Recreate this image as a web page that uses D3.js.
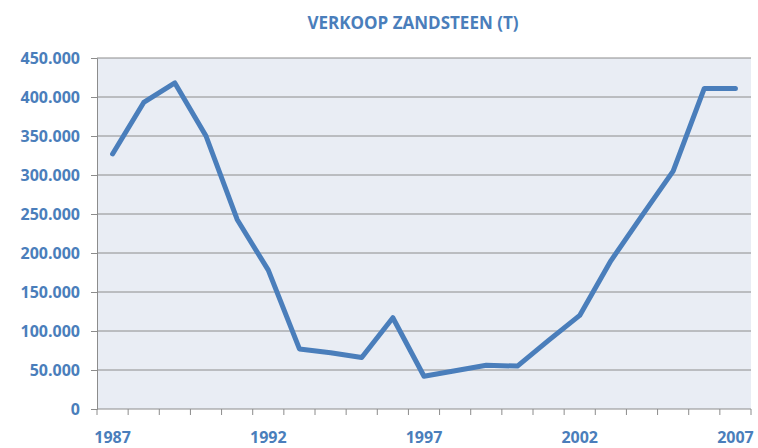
<!DOCTYPE html>
<html>
<head>
<meta charset="utf-8">
<script src="https://cdn.jsdelivr.net/npm/d3@7"></script>
<style>
  body { margin: 0; background: #fff; }
  text { font-family: "Open Sans", "Liberation Sans", sans-serif; }
</style>
</head>
<body>
<svg id="chart" width="758" height="448"></svg>
<script>
const years = d3.range(1987, 2008);
const tonnes = [327000, 393000, 418000, 350000, 243000, 178000, 77000, 72000, 66000, 117000,
  42000, 49000, 56000, 55000, 88000, 120000, 190000, 248000, 305000, 411000, 411000];
const yTicks = [0, 50000, 100000, 150000, 200000, 250000, 300000, 350000, 400000, 450000];
const xLabels = [1987, 1992, 1997, 2002, 2007];

const blue = "#4a7ebb";
const margin = { top: 58, right: 7, bottom: 39, left: 97 };
const width = 758 - margin.left - margin.right,
  height = 448 - margin.top - margin.bottom;

const svg = d3.select("#chart");

svg.append("text")
  .attr("x", 413)
  .attr("y", 29)
  .attr("text-anchor", "middle")
  .attr("fill", blue)
  .attr("font-size", 17)
  .attr("font-weight", "bold")
  .text("VERKOOP ZANDSTEEN (T)");

const g = svg.append("g").attr("transform", `translate(${margin.left},${margin.top})`);

const x = d3.scaleBand().domain(years).range([0, width]);
const y = d3.scaleLinear().domain([0, 450000]).range([height, 0]);

g.append("rect")
  .attr("width", width)
  .attr("height", height)
  .attr("fill", "#e9edf4");

// gridlines
g.selectAll(".grid")
  .data(yTicks.slice(1))
  .join("line")
  .attr("x1", 0)
  .attr("x2", width)
  .attr("y1", d => y(d))
  .attr("y2", d => y(d))
  .attr("stroke", "#8c8c8c")
  .attr("stroke-width", 1);

const fmt = d => d === 0 ? "0" : d3.format(",")(d).replace(/,/g, ".");

const yAxis = g.append("g")
  .call(d3.axisLeft(y).tickValues(yTicks).tickFormat(fmt).tickSize(6).tickPadding(11));
yAxis.select(".domain").attr("stroke", "#8c8c8c");
yAxis.selectAll(".tick line").attr("stroke", "#8c8c8c");
yAxis.selectAll(".tick text")
  .attr("fill", blue)
  .attr("font-size", 16)
  .attr("font-weight", "bold");

// x axis: ticks on category boundaries, labels every five years
const bounds = years.map(d => x(d)).concat([width]);
const xAxis = g.append("g").attr("transform", `translate(0,${height})`);
xAxis.append("line")
  .attr("x1", 0).attr("x2", width)
  .attr("stroke", "#8c8c8c");
xAxis.selectAll(".xt")
  .data(bounds)
  .join("line")
  .attr("x1", d => d).attr("x2", d => d)
  .attr("y1", 0).attr("y2", 6)
  .attr("stroke", "#8c8c8c");
xAxis.selectAll(".xl")
  .data(xLabels)
  .join("text")
  .attr("x", d => x(d) + x.bandwidth() / 2)
  .attr("y", 34)
  .attr("text-anchor", "middle")
  .attr("fill", blue)
  .attr("font-size", 16)
  .attr("font-weight", "bold")
  .text(d => d);

const line = d3.line()
  .x((d, i) => x(years[i]) + x.bandwidth() / 2)
  .y(d => y(d));

g.append("path")
  .datum(tonnes)
  .attr("d", line)
  .attr("fill", "none")
  .attr("stroke", blue)
  .attr("stroke-width", 5)
  .attr("stroke-linejoin", "round")
  .attr("stroke-linecap", "round");
</script>
</body>
</html>
